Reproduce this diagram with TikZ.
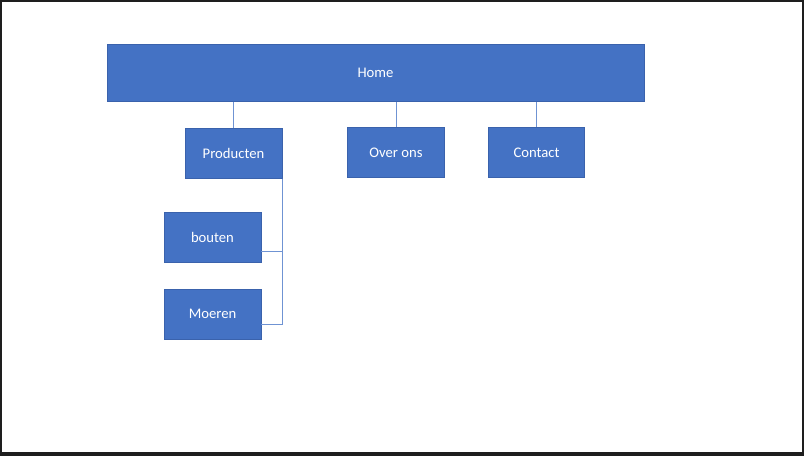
\documentclass[tikz,border=0pt]{standalone}
\usepackage{fontspec}
\setmainfont{Carlito}
\usetikzlibrary{calc}
\definecolor{boxblue}{HTML}{4472C4}
\definecolor{boxedge}{HTML}{3A62AC}
\definecolor{linkblue}{HTML}{6F93D3}
\definecolor{frame}{HTML}{1E1E1E}
\tikzset{
	page/.style={box/.style={draw=boxedge, line width=0.6pt, fill=boxblue, text=white, font=\fontsize{11}{13}\selectfont, minimum width=72.75pt, minimum height=37.5pt, inner sep=0pt}},
	link/.style={draw=linkblue, line width=0.7pt}
}

\begin{document}
\begin{tikzpicture}[x=0.75pt, y=-0.75pt, page]
			%%%%% START %%%%%
			
			\fill[frame] (0, 0) rectangle (804, 456);
			\fill[white] (2, 2) rectangle (802, 452);
			
			\node[box, minimum width=402.75pt, minimum height=43pt] (home) at (375.5, 72.8) {Home};
			
			\node[box] (producten) at (233.5, 153.3) {Producten};
			\node[box] (overons) at (396, 152.5) {Over ons};
			\node[box, minimum width=72pt] (contact) at (536.5, 152.5) {Contact};
			
			\node[box] (bouten) at (212.5, 237.3) {bouten};
			\node[box] (moeren) at (212.5, 314.3) {Moeren};
			
			\draw[link] (home.south -| producten) -- (producten);
			\draw[link] (home.south -| overons) -- (overons);
			\draw[link] (home.south -| contact) -- (contact);
			
			\draw[link] (producten.south east) |- ([yshift=-10.5pt]bouten.east);
			\draw[link] (producten.south east) |- ([yshift=-7.5pt]moeren.east);
			
			%%%%% END %%%%%
\end{tikzpicture}
\end{document}
